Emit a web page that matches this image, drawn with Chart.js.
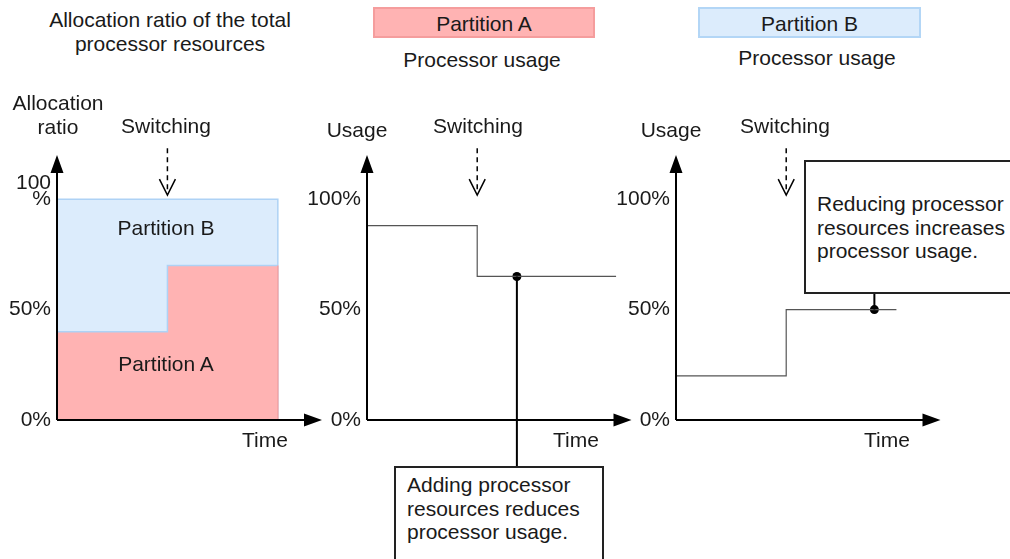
<!DOCTYPE html>
<html>
<head>
  <title>Processor resource allocation</title>
  <script src="https://cdn.jsdelivr.net/npm/chart.js"></script>
  <style>
    body {
      margin: 0;
      width: 1010px;
      height: 559px;
      position: relative;
      overflow: hidden;
      background: #fff;
      font-family: "Liberation Sans", Arial, sans-serif;
      font-size: 21px;
      color: #1a1a1a;
    }
    .t {
      position: absolute;
      z-index: 1;
      white-space: nowrap;
      line-height: 24px;
      text-align: center;
      transform: translate(-50%, -50%);
    }
    canvas { position: absolute; top: 135px; }
    .tag {
      position: absolute;
      top: 7px;
      height: 31px;
      line-height: 29px;
      text-align: center;
      box-sizing: border-box;
    }
    .note {
      position: absolute;
      z-index: 2;
      background: #fff;
      border: 2px solid #222;
      box-sizing: border-box;
      line-height: 23.5px;
      white-space: nowrap;
    }
  </style>
</head>
<body>

  <div class="t" style="left:170px; top:32px;">Allocation ratio of the total<br>processor resources</div>

  <div class="tag" style="left:373px; width:222px; background:#ffb3b3; border:2px solid #f59d9d;">Partition A</div>
  <div class="t" style="left:482px; top:60px;">Processor usage</div>

  <div class="tag" style="left:698px; width:223px; background:#dcecfc; border:2px solid #b3d6f6;">Partition B</div>
  <div class="t" style="left:817px; top:58px;">Processor usage</div>

  <div class="t" style="left:58px; top:115px;">Allocation<br>ratio</div>
  <div class="t" style="left:166px; top:126px;">Switching</div>
  <div class="t" style="left:357px; top:130px;">Usage</div>
  <div class="t" style="left:478px; top:126px;">Switching</div>
  <div class="t" style="left:671px; top:130px;">Usage</div>
  <div class="t" style="left:785px; top:126px;">Switching</div>

  <div class="t" style="left:166px; top:228px;">Partition B</div>
  <div class="t" style="left:166px; top:364px;">Partition A</div>

  <div class="t" style="left:265px; top:440px;">Time</div>
  <div class="t" style="left:576px; top:440px;">Time</div>
  <div class="t" style="left:887px; top:440px;">Time</div>

  <canvas id="alloc" width="329" height="333" style="left:-3px;"></canvas>
  <canvas id="usageA" width="329" height="333" style="left:307px;"></canvas>
  <canvas id="usageB" width="329" height="333" style="left:616px;"></canvas>

  <div class="note" style="left:394px; top:466px; width:210px; height:110px; padding:5px 0 0 11px;">Adding processor<br>resources reduces<br>processor usage.</div>
  <div class="note" style="left:804px; top:160px; width:230px; height:134px; padding:30px 0 0 11px;">Reducing processor<br>resources increases<br>processor usage.</div>

  <script>
    // values (time in arbitrary units, ratio / usage in %)
    const switchAt = 5;
    const allocTime = [0, 5, 10];
    const allocA = [40, 70, 70];
    const allocTotal = [100, 100, 100];

    const usageATime = [0, 5, 11.3];
    const usageA = [88, 65, 65];
    const usageAMark = { x: 6.8, y: 65 };

    const usageBTime = [0, 5, 10];
    const usageB = [20, 50, 50];
    const usageBMark = { x: 9, y: 50 };

    const yTicks = [0, 50, 100];
    const allocTickLabels = ['0%', '50%', ['100', '%', '']];
    const usageTickLabels = ['0%', '50%', '100%'];

    Chart.defaults.font.family = '"Liberation Sans", Arial, sans-serif';

    const pts = (xs, ys) => xs.map((x, i) => ({ x: x, y: ys[i] }));
    const closeDown = p => p.concat([{ x: p[p.length - 1].x, y: 0 }]);

    // axes with arrow heads, dashed "switching" arrow and leader line
    const decor = {
      id: 'decor',
      afterDatasetsDraw(chart, args, opts) {
        const { ctx, chartArea: a, scales: { x, y } } = chart;
        ctx.save();
        ctx.strokeStyle = '#000';
        ctx.fillStyle = '#000';
        ctx.lineWidth = 2;

        ctx.beginPath();
        ctx.moveTo(a.left, a.bottom);
        ctx.lineTo(a.left, a.top + 12);
        ctx.moveTo(a.left, a.bottom);
        ctx.lineTo(a.right - 12, a.bottom);
        ctx.stroke();

        ctx.beginPath();
        ctx.moveTo(a.left, a.top);
        ctx.lineTo(a.left - 6.5, a.top + 18);
        ctx.lineTo(a.left + 6.5, a.top + 18);
        ctx.closePath();
        ctx.moveTo(a.right, a.bottom);
        ctx.lineTo(a.right - 18, a.bottom - 6.5);
        ctx.lineTo(a.right - 18, a.bottom + 6.5);
        ctx.closePath();
        ctx.fill();

        // switching arrow
        const sx = x.getPixelForValue(switchAt);
        const tip = y.getPixelForValue(100) - 4;
        ctx.lineWidth = 1.5;
        ctx.setLineDash([5, 4]);
        ctx.beginPath();
        ctx.moveTo(sx, tip - 47);
        ctx.lineTo(sx, tip - 2);
        ctx.stroke();
        ctx.setLineDash([]);
        ctx.beginPath();
        ctx.moveTo(sx - 8, tip - 16);
        ctx.lineTo(sx, tip);
        ctx.lineTo(sx + 8, tip - 16);
        ctx.stroke();

        // leader from the marker to the note box
        if (opts.leader) {
          const p = chart.getDatasetMeta(1).data[0];
          ctx.lineWidth = 2;
          ctx.beginPath();
          ctx.moveTo(p.x, p.y);
          ctx.lineTo(p.x, opts.leader === 'down' ? chart.height : p.y - 30);
          ctx.stroke();
        }
        ctx.restore();
      }
    };

    function makePanel(id, datasets, tickLabels, decorOpts) {
      return new Chart(document.getElementById(id), {
        type: 'line',
        data: { datasets: datasets },
        options: {
          responsive: false,
          animation: false,
          events: [],
          layout: { padding: { left: 0, top: 20, right: 4, bottom: 48 } },
          plugins: {
            legend: { display: false },
            tooltip: { enabled: false },
            decor: decorOpts
          },
          scales: {
            x: { type: 'linear', min: 0, max: 12, display: false },
            y: {
              min: 0,
              max: 120,
              grid: { display: false, drawTicks: false },
              border: { display: false },
              afterFit: s => {
                s.width = 60;
                s.paddingTop = 0;
                s.paddingBottom = 0;
              },
              afterBuildTicks: s => { s.ticks = yTicks.map(v => ({ value: v })); },
              ticks: {
                padding: 6,
                color: '#1a1a1a',
                font: { size: 21, lineHeight: 0.75 },
                callback: (v, i) => tickLabels[i]
              }
            }
          }
        },
        plugins: [decor]
      });
    }

    // panel 1: stacked allocation
    makePanel('alloc', [
      {
        label: 'Partition A',
        data: closeDown(pts(allocTime, allocA)),
        stepped: true,
        fill: 'origin',
        backgroundColor: '#ffb3b3',
        borderWidth: 1.5,
        segment: { borderColor: c => c.p1DataIndex < 3 ? '#aed2f5' : '#f7a3a3' },
        pointRadius: 0
      },
      {
        label: 'Partition B',
        data: closeDown(pts(allocTime, allocTotal)),
        stepped: true,
        fill: 'origin',
        backgroundColor: '#dcecfc',
        borderColor: '#aed2f5',
        borderWidth: 1.5,
        pointRadius: 0
      }
    ], allocTickLabels, {});

    // panel 2: partition A usage
    makePanel('usageA', [
      {
        label: 'Partition A usage',
        data: pts(usageATime, usageA),
        stepped: true,
        fill: false,
        borderColor: '#555',
        borderWidth: 1.2,
        pointRadius: 0
      },
      {
        label: 'marker',
        data: [usageAMark],
        showLine: false,
        pointRadius: 4.5,
        pointBackgroundColor: '#000',
        pointBorderWidth: 0
      }
    ], usageTickLabels, { leader: 'down' });

    // panel 3: partition B usage
    makePanel('usageB', [
      {
        label: 'Partition B usage',
        data: pts(usageBTime, usageB),
        stepped: true,
        fill: false,
        borderColor: '#555',
        borderWidth: 1.2,
        pointRadius: 0
      },
      {
        label: 'marker',
        data: [usageBMark],
        showLine: false,
        pointRadius: 4.5,
        pointBackgroundColor: '#000',
        pointBorderWidth: 0
      }
    ], usageTickLabels, { leader: 'up' });
  </script>

</body>
</html>
